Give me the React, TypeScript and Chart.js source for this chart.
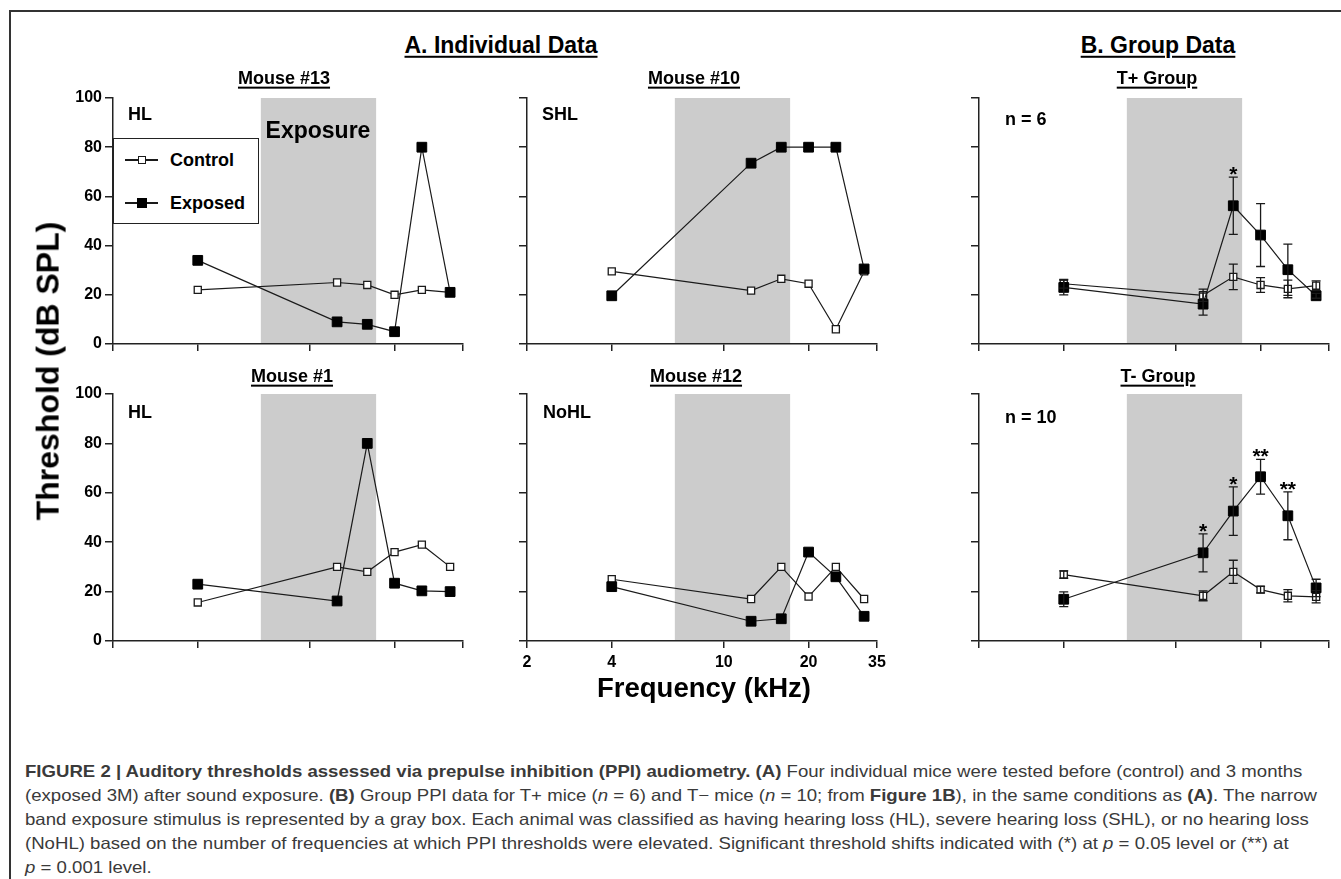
import React, { useEffect, useRef } from "react";
import { Chart, registerables } from "chart.js";

Chart.register(...registerables);

// ---------- data ----------
const FREQS = [4, 12.5, 16, 20, 25, 31.5];
const X_TICKS = [2, 4, 10, 20, 35];
const EXPOSURE_BAND = [6.7, 17.2];

const M13_CONTROL = [22, 25, 24, 20, 22, 21];
const M13_EXPOSED = [34, 9, 8, 5, 80, 21];
const M10_CONTROL = [29.5, 21.7, 26.5, 24.5, 6, 29.5];
const M10_EXPOSED = [19.6, 73.5, 80, 80, 80, 30.5];
const M1_CONTROL = [15.6, 30, 28, 36, 39, 30];
const M1_EXPOSED = [23, 16.2, 80, 23.4, 20.3, 20];
const M12_CONTROL = [25, 17, 30, 18, 30, 17];
const M12_EXPOSED = [22, 8, 9, 36, 26, 10];

const TPLUS_CONTROL = [24.5, 19.8, 27.3, 24, 22.4, 23.7];
const TPLUS_CONTROL_ERR = [1.8, 2.5, 5.2, 3, 3.6, 2];
const TPLUS_EXPOSED = [23, 16.2, 56.2, 44.3, 30.2, 19.6];
const TPLUS_EXPOSED_ERR = [3, 4.5, 11.6, 12.8, 10.4, 1];
const TPLUS_STARS = ["", "", "*", "", "", ""];

const TMINUS_CONTROL = [26.9, 18.3, 28, 20.8, 18.3, 17.9];
const TMINUS_CONTROL_ERR = [1.5, 2, 4.7, 1.3, 2.5, 2.5];
const TMINUS_EXPOSED = [16.9, 35.7, 52.6, 66.5, 50.7, 21.5];
const TMINUS_EXPOSED_ERR = [3, 7.7, 9.8, 7, 9.7, 3.5];
const TMINUS_STARS = ["", "*", "*", "**", "**", ""];

// ---------- layout ----------
const FONT = "'Liberation Sans', Arial, Helvetica, sans-serif";
const INK = "#1a1a1a";
const AXIS = "#222";
const COL_X = [113, 527, 979];
const ROW_Y = [98, 394];
const ROW_H = [246, 247];
const PLOT_W = 350;
const PAD_L = 70;
const PAD_T = 30;
const PAD_R = 20;
const PAD_B = 40;

type PanelCfg = {
  col: number;
  row: number;
  control: number[];
  exposed: number[];
  controlErr?: number[];
  exposedErr?: number[];
  stars?: string[];
  showY: boolean;
  showX: boolean;
};

const PANELS: PanelCfg[] = [
  { col: 0, row: 0, control: M13_CONTROL, exposed: M13_EXPOSED, showY: true, showX: false },
  { col: 1, row: 0, control: M10_CONTROL, exposed: M10_EXPOSED, showY: false, showX: false },
  {
    col: 2, row: 0, control: TPLUS_CONTROL, exposed: TPLUS_EXPOSED,
    controlErr: TPLUS_CONTROL_ERR, exposedErr: TPLUS_EXPOSED_ERR, stars: TPLUS_STARS,
    showY: false, showX: false,
  },
  { col: 0, row: 1, control: M1_CONTROL, exposed: M1_EXPOSED, showY: true, showX: false },
  { col: 1, row: 1, control: M12_CONTROL, exposed: M12_EXPOSED, showY: false, showX: true },
  {
    col: 2, row: 1, control: TMINUS_CONTROL, exposed: TMINUS_EXPOSED,
    controlErr: TMINUS_CONTROL_ERR, exposedErr: TMINUS_EXPOSED_ERR, stars: TMINUS_STARS,
    showY: false, showX: false,
  },
];

const bandPlugin = {
  id: "band",
  beforeDraw(chart: any) {
    const { ctx, scales } = chart;
    const x0 = scales.x.getPixelForValue(EXPOSURE_BAND[0]);
    const x1 = scales.x.getPixelForValue(EXPOSURE_BAND[1]);
    const y0 = scales.y.getPixelForValue(100);
    const y1 = scales.y.getPixelForValue(0);
    ctx.save();
    ctx.fillStyle = "#cccccc";
    ctx.fillRect(x0, y0, x1 - x0, y1 - y0);
    ctx.restore();
  },
};

function makeErrPlugin(cfg: PanelCfg) {
  return {
    id: "errbars",
    afterDatasetsDraw(chart: any) {
      const { ctx, scales } = chart;
      ctx.save();
      ctx.strokeStyle = INK;
      ctx.lineWidth = 1.3;
      const draw = (vals: number[], errs?: number[]) => {
        if (!errs) return;
        vals.forEach((v, i) => {
          const x = scales.x.getPixelForValue(FREQS[i]);
          const yt = scales.y.getPixelForValue(v + errs[i]);
          const yb = scales.y.getPixelForValue(v - errs[i]);
          ctx.beginPath();
          ctx.moveTo(x, yt);
          ctx.lineTo(x, yb);
          ctx.moveTo(x - 4.5, yt);
          ctx.lineTo(x + 4.5, yt);
          ctx.moveTo(x - 4.5, yb);
          ctx.lineTo(x + 4.5, yb);
          ctx.stroke();
        });
      };
      draw(cfg.control, cfg.controlErr);
      draw(cfg.exposed, cfg.exposedErr);
      if (cfg.stars && cfg.exposedErr) {
        ctx.fillStyle = "#000";
        ctx.font = `bold 21px ${FONT}`;
        ctx.textAlign = "center";
        ctx.textBaseline = "alphabetic";
        cfg.stars.forEach((s, i) => {
          if (!s) return;
          const x = scales.x.getPixelForValue(FREQS[i]);
          const yt = scales.y.getPixelForValue(cfg.exposed[i] + cfg.exposedErr![i]);
          ctx.fillText(s, x, yt + 4);
        });
      }
      ctx.restore();
    },
  };
}

function Panel({ cfg }: { cfg: PanelCfg }) {
  const ref = useRef<HTMLCanvasElement | null>(null);
  const h = ROW_H[cfg.row];
  const width = PAD_L + PLOT_W + PAD_R;
  const height = PAD_T + h + PAD_B;
  useEffect(() => {
    if (!ref.current) return;
    const tickFont = { family: FONT, size: 16, weight: "bold" as const };
    const chart = new Chart(ref.current, {
      type: "line",
      data: {
        datasets: [
          {
            label: "Control",
            data: FREQS.map((f, i) => ({ x: f, y: cfg.control[i] })),
            borderColor: INK,
            borderWidth: 1.2,
            pointStyle: "rect",
            pointRadius: 5.0,
            pointBackgroundColor: "#fff",
            pointBorderColor: INK,
            pointBorderWidth: 1.3,
            tension: 0,
            fill: false,
            order: 1,
          },
          {
            label: "Exposed",
            data: FREQS.map((f, i) => ({ x: f, y: cfg.exposed[i] })),
            borderColor: INK,
            borderWidth: 1.2,
            pointStyle: "rect",
            pointRadius: 6.9,
            pointBackgroundColor: "#000",
            pointBorderColor: "#000",
            pointBorderWidth: 1,
            tension: 0,
            fill: false,
            order: 0,
          },
        ],
      },
      options: {
        animation: false,
        responsive: false,
        maintainAspectRatio: false,
        devicePixelRatio: 1,
        events: [],
        layout: { padding: { left: 0, top: PAD_T, right: PAD_R, bottom: 0 } },
        plugins: { legend: { display: false }, tooltip: { enabled: false } },
        scales: {
          x: {
            type: "logarithmic",
            min: 2,
            max: 35,
            afterBuildTicks: (s: any) => {
              s.ticks = X_TICKS.map((v) => ({ value: v }));
            },
            afterFit: (s: any) => {
              s.height = PAD_B;
            },
            ticks: {
              display: cfg.showX,
              autoSkip: false,
              maxRotation: 0,
              padding: 5,
              color: "#000",
              font: tickFont,
              callback: (v: any) => String(v),
            },
            grid: { drawOnChartArea: false, drawTicks: true, tickLength: 7, color: AXIS, lineWidth: 1.5 },
            border: { display: true, color: AXIS, width: 1.5 },
          },
          y: {
            min: 0,
            max: 100,
            afterFit: (s: any) => {
              s.width = PAD_L;
            },
            ticks: {
              display: cfg.showY,
              stepSize: 20,
              padding: 3,
              color: "#000",
              font: tickFont,
            },
            grid: { drawOnChartArea: false, drawTicks: true, tickLength: 8, color: AXIS, lineWidth: 1.5 },
            border: { display: true, color: AXIS, width: 1.5 },
          },
        },
      } as any,
      plugins: [bandPlugin, makeErrPlugin(cfg)],
    });
    return () => chart.destroy();
  }, [cfg]);
  return (
    <canvas
      ref={ref}
      width={width}
      height={height}
      style={{
        position: "absolute",
        left: COL_X[cfg.col] - PAD_L,
        top: ROW_Y[cfg.row] - PAD_T,
        width,
        height,
      }}
    />
  );
}

function Txt({
  x, y, size, children, align = "center", bold = true, underline = false, style = {},
}: {
  x: number; y: number; size: number; children: React.ReactNode; align?: "center" | "left";
  bold?: boolean; underline?: boolean; style?: React.CSSProperties;
}) {
  return (
    <div
      style={{
        position: "absolute",
        left: x,
        top: y,
        transform: align === "center" ? "translate(-50%, -50%)" : "translate(0, -50%)",
        fontFamily: FONT,
        fontSize: size,
        fontWeight: bold ? 700 : 400,
        whiteSpace: "nowrap",
        color: "#000",
        lineHeight: 1.15,
        textDecoration: underline ? "underline" : "none",
        textDecorationThickness: underline ? "2px" : undefined,
        textUnderlineOffset: underline ? "3px" : undefined,
        zIndex: 5,
        ...style,
      }}
    >
      {children}
    </div>
  );
}

function LegendItem({ y, label, filled }: { y: number; label: string; filled: boolean }) {
  return (
    <>
      <div style={{ position: "absolute", left: 11, top: y - 0.6, width: 33, height: 1.2, background: INK }} />
      <div
        style={{
          position: "absolute",
          left: 27.5 - (filled ? 5 : 4),
          top: y - (filled ? 5 : 4),
          width: filled ? 10 : 8,
          height: filled ? 10 : 8,
          boxSizing: "border-box",
          background: filled ? "#000" : "#fff",
          border: `1.3px solid ${filled ? "#000" : INK}`,
        }}
      />
      <div
        style={{
          position: "absolute",
          left: 56,
          top: y,
          transform: "translateY(-50%)",
          fontFamily: FONT,
          fontWeight: 700,
          fontSize: 18,
          whiteSpace: "nowrap",
        }}
      >
        {label}
      </div>
    </>
  );
}

const CAPTION_LINES: React.ReactNode[] = [
  <>
    <b>FIGURE 2 | Auditory thresholds assessed via prepulse inhibition (PPI) audiometry. (A)</b> Four individual
    mice were tested before (control) and 3 months
  </>,
  <>
    (exposed 3M) after sound exposure. <b>(B)</b> Group PPI data for T+ mice (<i>n</i> = 6) and T− mice (
    <i>n</i> = 10; from <b>Figure 1B</b>), in the same conditions as <b>(A)</b>. The narrow
  </>,
  <>
    band exposure stimulus is represented by a gray box. Each animal was classified as having hearing loss (HL),
    severe hearing loss (SHL), or no hearing loss
  </>,
  <>
    (NoHL) based on the number of frequencies at which PPI thresholds were elevated. Significant threshold shifts
    indicated with (*) at <i>p</i> = 0.05 level or (**) at
  </>,
  <>
    <i>p</i> = 0.001 level.
  </>,
];

export default function App() {
  return (
    <div
      style={{
        position: "absolute",
        left: 0,
        top: 0,
        width: 1341,
        height: 879,
        background: "#fff",
        overflow: "hidden",
      }}
    >
      {/* frame */}
      <div style={{ position: "absolute", left: 9, top: 10, width: 1332, height: 1.5, background: "#333" }} />
      <div style={{ position: "absolute", left: 9, top: 10, width: 1.5, height: 869, background: "#333" }} />

      {PANELS.map((p, i) => (
        <Panel key={i} cfg={p} />
      ))}

      {/* headings */}
      <Txt x={501} y={45} size={23} underline>A. Individual Data</Txt>
      <Txt x={1158} y={45} size={23} underline>B. Group Data</Txt>
      <Txt x={284} y={78} size={18} underline>Mouse #13</Txt>
      <Txt x={694} y={78} size={18} underline>Mouse #10</Txt>
      <Txt x={1157} y={78} size={18} underline>T+ Group</Txt>
      <Txt x={292} y={376} size={18} underline>Mouse #1</Txt>
      <Txt x={696} y={376} size={18} underline>Mouse #12</Txt>
      <Txt x={1158} y={376} size={18} underline>T- Group</Txt>

      {/* in-panel labels */}
      <Txt x={128} y={114} size={18} align="left">HL</Txt>
      <Txt x={542} y={114} size={18} align="left">SHL</Txt>
      <Txt x={1005} y={119} size={18} align="left">n = 6</Txt>
      <Txt x={128} y={412} size={18} align="left">HL</Txt>
      <Txt x={543} y={412} size={18} align="left">NoHL</Txt>
      <Txt x={1005} y={417} size={18} align="left">n = 10</Txt>
      <Txt x={318} y={130} size={23}>Exposure</Txt>

      {/* legend */}
      <div
        style={{
          position: "absolute",
          left: 113,
          top: 138,
          width: 146,
          height: 86,
          boxSizing: "border-box",
          border: `1.5px solid ${AXIS}`,
          background: "#fff",
          zIndex: 6,
        }}
      >
        <LegendItem y={21} label="Control" filled={false} />
        <LegendItem y={64} label="Exposed" filled={true} />
      </div>

      {/* axis titles */}
      <Txt x={48} y={371} size={32} style={{ transform: "translate(-50%, -50%) rotate(-90deg)" }}>
        Threshold (dB SPL)
      </Txt>
      <Txt x={704} y={688} size={27.5}>Frequency (kHz)</Txt>

      {/* caption */}
      {CAPTION_LINES.map((line, i) => (
        <div
          key={i}
          style={{
            position: "absolute",
            left: 25,
            top: 771 + i * 24 - 12,
            height: 24,
            lineHeight: "24px",
            fontFamily: FONT,
            fontSize: 16.5,
            color: "#3a3a3a",
            whiteSpace: "nowrap",
            transform: "scaleX(1.127)",
            transformOrigin: "0 50%",
          }}
        >
          {line}
        </div>
      ))}
    </div>
  );
}
